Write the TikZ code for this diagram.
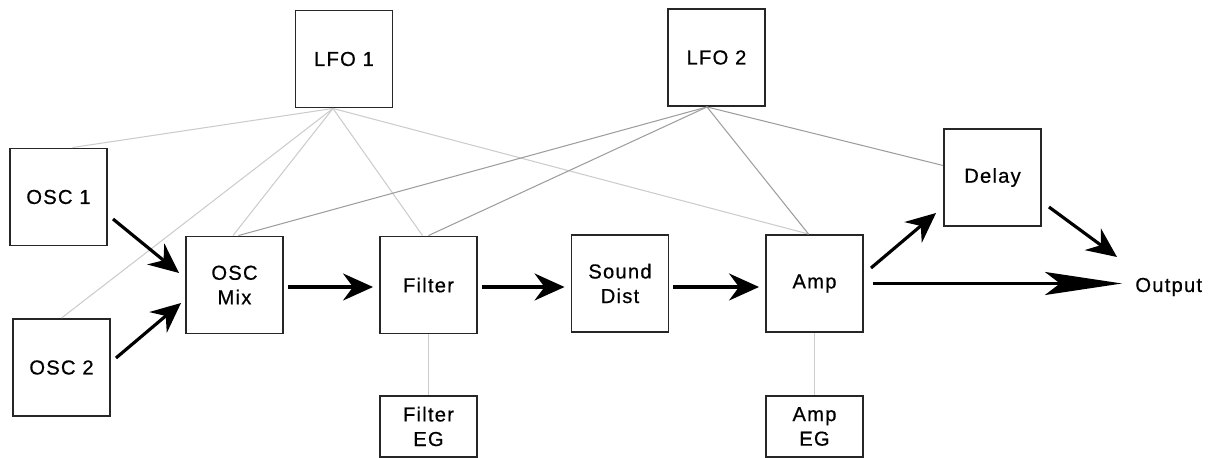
\documentclass[tikz,border=0pt]{standalone}
\usepackage{fontspec}
\setmainfont[LetterSpace=6, FakeBold=0.6]{Liberation Sans}
\usepackage{tikz}
\usetikzlibrary{arrows.meta, calc}

\begin{document}
\begin{tikzpicture}[
	module/.style={draw=black!85, line width=1.1pt, rectangle, minimum width=1.94cm,
		minimum height=1.94cm, inner sep=0pt, align=center, font=\fontsize{11.5}{14}\selectfont},
	envbox/.style={module, minimum height=1.22cm},
	signal/.style={-{Stealth[length=0.6cm, width=0.54cm, inset=0.2cm]}, line width=1.8pt,
		shorten <=0.08cm, shorten >=0.12cm},
	modone/.style={draw=black!20, line width=0.6pt},
	modtwo/.style={draw=black!38, line width=0.6pt}
	]
	\useasboundingbox (0,0) rectangle (24.22,-9.16);

	\node[module] (lfo1)      at (6.88,-1.18)  {LFO 1};
	\node[module] (lfo2)      at (14.33,-1.15) {LFO 2};
	\node[module] (osc1)      at (1.17,-3.94)  {OSC 1};
	\node[module] (osc2)      at (1.23,-7.35)  {OSC 2};
	\node[module] (oscmix)    at (4.69,-5.70)  {OSC\\Mix};
	\node[module] (filter)    at (8.57,-5.70)  {Filter};
	\node[module] (sounddist) at (12.40,-5.67) {Sound\\Dist};
	\node[module] (amp)       at (16.29,-5.67) {Amp};
	\node[module] (delay)     at (19.85,-3.55) {Delay};
	\node[envbox] (filtereg)  at (8.57,-8.53)  {Filter\\EG};
	\node[envbox] (ampeg)     at (16.29,-8.53) {Amp\\EG};
	\node[anchor=west, inner sep=0pt, font=\fontsize{11.5}{14}\selectfont]
		(output) at (22.70,-5.74) {Output};

	\coordinate (hubone) at ([xshift=-0.22cm]lfo1.south);
	\coordinate (hubtwo) at ([xshift=-0.19cm]lfo2.south);

	\draw[modone] (hubone) -- ([xshift=0.28cm]osc1.north);
	\draw[modone] (hubone) -- (osc2.north);
	\draw[modone] (hubone) -- ([xshift=-0.03cm]oscmix.north);
	\draw[modone] (hubone) -- ([xshift=-0.12cm]filter.north);
	\draw[modone] (hubone) -- ([xshift=-0.12cm]amp.north);
	\draw[modone] (filter.south) -- (filtereg.north);
	\draw[modone] (amp.south) -- (ampeg.north);

	\draw[modtwo] (hubtwo) -- ([xshift=0.08cm]oscmix.north);
	\draw[modtwo] (hubtwo) -- (filter.north);
	\draw[modtwo] (hubtwo) -- ([xshift=-0.12cm]amp.north);
	\draw[modtwo] (hubtwo) -- ([yshift=0.24cm]delay.west);

	\draw[signal, shorten <=0pt, shorten >=0pt]
		([shift={(0.1,-0.44)}]osc1.east) -- ([shift={(-0.12,0.24)}]oscmix.west);
	\draw[signal, shorten <=0pt, shorten >=0pt]
		([shift={(0.1,0.19)}]osc2.east) -- ([shift={(-0.08,-0.36)}]oscmix.west);
	\draw[signal] ([yshift=-0.04cm]oscmix.east) -- ([yshift=-0.04cm]oscmix.east -| filter.west);
	\draw[signal] ([yshift=-0.04cm]filter.east) -- ([yshift=-0.04cm]filter.east -| sounddist.west);
	\draw[signal] ([yshift=-0.07cm]sounddist.east) -- ([yshift=-0.07cm]sounddist.east -| amp.west);
	\draw[signal, shorten <=0pt, shorten >=0pt]
		([shift={(0.14,0.31)}]amp.east) -- ([shift={(-0.14,-0.71)}]delay.west);
	\draw[signal, shorten <=0pt, shorten >=0pt]
		([shift={(0.14,-0.59)}]delay.east) -- ([shift={(-0.36,0.6)}]output.west);
	\draw[signal, -{Stealth[length=1.54cm, width=0.46cm, inset=0.3cm]}, shorten <=0.18cm, shorten >=0.26cm]
		(amp.east) -- (amp.east -| output.west);
\end{tikzpicture}
\end{document}
